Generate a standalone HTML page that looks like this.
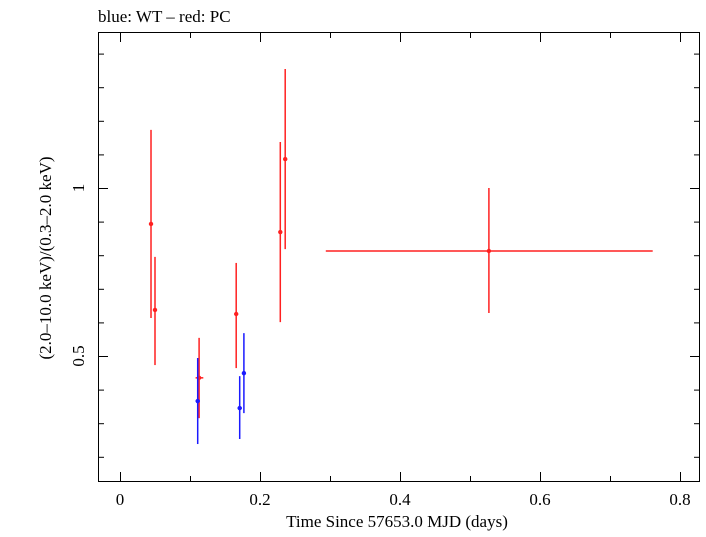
<!DOCTYPE html>
<html><head><meta charset="utf-8"><style>
body{margin:0;background:#fff}
svg text{font-family:"Liberation Serif",serif;fill:#000}
</style></head><body>
<svg id="chart" width="706" height="532" xmlns="http://www.w3.org/2000/svg">
<text x="98" y="22" font-size="17">blue: WT – red: PC</text>
<rect x="98.5" y="32.5" width="601" height="449" fill="none" stroke="#000" stroke-width="1"/>
<g id="axes"></g>
<g id="marks"></g>
<text x="397" y="527" font-size="17" text-anchor="middle">Time Since 57653.0 MJD (days)</text>
<text transform="translate(51,258) rotate(-90)" font-size="17" text-anchor="middle">(2.0–10.0 keV)/(0.3–2.0 keV)</text>
</svg>
<script>
const xTicks=[0,0.2,0.4,0.6,0.8];
const xTickLabels=["0","0.2","0.4","0.6","0.8"];
const xMinor=[0.1,0.3,0.5,0.7];
const yTicks=[0.5,1];
const yTickLabels=["0.5","1"];
const yMinor=[0.2,0.3,0.4,0.6,0.7,0.8,0.9,1.1,1.2,1.3,1.4];
const redX=[0.0443,0.050,0.113,0.166,0.229,0.236,0.527];
const redXLo=[0.0443,0.050,0.108,0.166,0.229,0.236,0.294];
const redXHi=[0.0443,0.050,0.119,0.166,0.229,0.236,0.761];
const redY=[0.893,0.637,0.435,0.625,0.869,1.086,0.8125];
const redYLo=[0.613,0.473,0.315,0.464,0.601,0.818,0.628];
const redYHi=[1.173,0.795,0.554,0.777,1.137,1.354,1.0];
const blueX=[0.111,0.171,0.177];
const blueXLo=[0.108,0.168,0.175];
const blueXHi=[0.114,0.174,0.179];
const blueY=[0.366,0.345,0.449];
const blueYLo=[0.238,0.253,0.330];
const blueYHi=[0.494,0.440,0.568];
const X=v=>120+v*700;
const Y=v=>188-(v-1)*336;
const NS="http://www.w3.org/2000/svg";
const axes=document.getElementById('axes'),marks=document.getElementById('marks');
function ln(p,x1,y1,x2,y2,c,w,name){const l=document.createElementNS(NS,'line');l.setAttribute('x1',x1);l.setAttribute('y1',y1);l.setAttribute('x2',x2);l.setAttribute('y2',y2);l.setAttribute('stroke',c);l.setAttribute('stroke-width',w);


p.appendChild(l);return l;}
function tx(x,y,s,anchor,name){const t=document.createElementNS(NS,'text');t.setAttribute('x',x);t.setAttribute('y',y);t.setAttribute('font-size','17');t.setAttribute('text-anchor',anchor);t.textContent=s;


axes.appendChild(t);}
xTicks.forEach((v,i)=>{const x=X(v)+0.5;ln(axes,x,481,x,472,'#000',1,'x-tick');ln(axes,x,33,x,42,'#000',1,'x-tick-top');tx(X(v),505,xTickLabels[i],'middle','x-tick-label');});
xMinor.forEach(v=>{const x=X(v)+0.5;ln(axes,x,481,x,476,'#000',1,'x-minor-tick');ln(axes,x,33,x,38,'#000',1,'x-minor-tick-top');});
yTicks.forEach((v,i)=>{const y=Y(v)+0.5;ln(axes,99,y,108,y,'#000',1,'y-tick');ln(axes,699,y,690,y,'#000',1,'y-tick-right');
const t=document.createElementNS(NS,'text');t.setAttribute('transform',`translate(${84},${Y(v)}) rotate(-90)`);t.setAttribute('font-size','17');t.setAttribute('text-anchor','middle');t.textContent=yTickLabels[i];


axes.appendChild(t);});
yMinor.forEach(v=>{const y=Y(v)+0.5;ln(axes,99,y,104,y,'#000',1,'y-minor-tick');ln(axes,699,y,694,y,'#000',1,'y-minor-tick-right');});
function series(xs,xl,xh,ys,yl,yh,c,name){xs.forEach((v,i)=>{ln(marks,X(v),Y(yl[i]),X(v),Y(yh[i]),c,1.5,name+'-yerr');ln(marks,X(xl[i]),Y(ys[i]),X(xh[i]),Y(ys[i]),c,1.5,name+'-xerr');
const d=document.createElementNS(NS,'circle');d.setAttribute('cx',X(v));d.setAttribute('cy',Y(ys[i]));d.setAttribute('r',2.2);d.setAttribute('fill',c);


marks.appendChild(d);});}
series(redX,redXLo,redXHi,redY,redYLo,redYHi,'#ff2020','pc-red');
series(blueX,blueXLo,blueXHi,blueY,blueYLo,blueYHi,'#1a1aff','wt-blue');
</script>
</body></html>
